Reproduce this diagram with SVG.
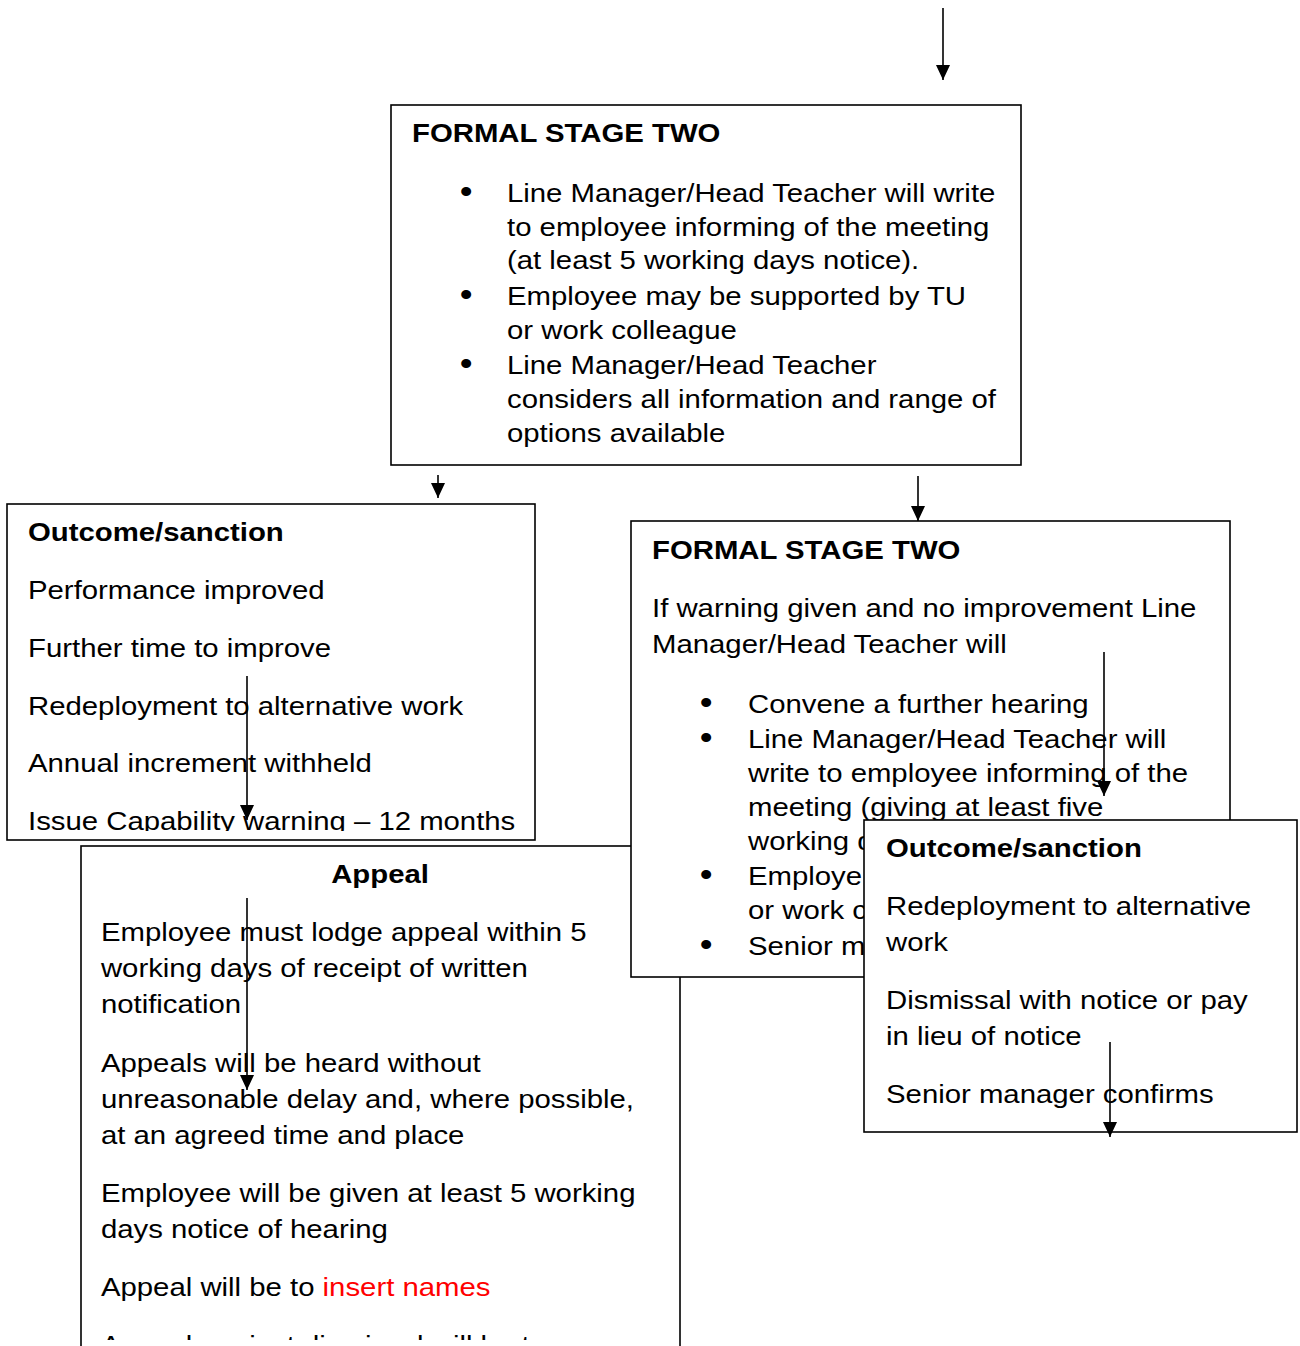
<svg xmlns="http://www.w3.org/2000/svg" width="1300" height="1346" viewBox="0 0 1300 1346">
<style>
.box{fill:#fff;stroke:#000;stroke-width:1.6}
.t{font-family:"Liberation Sans",Arial,sans-serif;font-size:26.5px;fill:#000}
.b{font-weight:bold}
.bl{font-size:33px;text-anchor:middle}
.red{fill:#ff0000}
.c{fill:none;stroke:#000;stroke-width:1.6}
</style>
<defs>
<marker id="ah" markerUnits="userSpaceOnUse" markerWidth="15" markerHeight="14" refX="15" refY="7" orient="auto">
<path d="M0,0 L15,7 L0,14 Z" fill="#000"/>
</marker>
<clipPath id="clipLeft"><rect x="7" y="504" width="528" height="327"/></clipPath>
<clipPath id="clipAppeal"><rect x="81" y="846" width="599" height="494"/></clipPath>
</defs>
<rect width="1300" height="1346" fill="#fff"/>

<g id="outcome-left">
<rect class="box" x="7" y="504" width="528" height="336"/>
<g clip-path="url(#clipLeft)">
<g class="t" transform="scale(1.107 1)">
<text class="b" x="25.3" y="541">Outcome/sanction</text>
<text x="25.3" y="599">Performance improved</text>
<text x="25.3" y="657">Further time to improve</text>
<text x="25.3" y="715">Redeployment to alternative work</text>
<text x="25.3" y="772">Annual increment withheld</text>
<text x="25.3" y="830">Issue Capability warning – 12 months</text>
</g>
</g>
</g>

<g id="appeal">
<rect class="box" x="81" y="846" width="599" height="520"/>
<g clip-path="url(#clipAppeal)">
<g class="t" transform="scale(1.107 1)">
<text class="b" x="343.3" y="883" text-anchor="middle">Appeal</text>
<text x="91.2" y="941">Employee must lodge appeal within 5</text>
<text x="91.2" y="977">working days of receipt of written</text>
<text x="91.2" y="1013">notification</text>
<text x="91.2" y="1072">Appeals will be heard without</text>
<text x="91.2" y="1108">unreasonable delay and, where possible,</text>
<text x="91.2" y="1144">at an agreed time and place</text>
<text x="91.2" y="1202">Employee will be given at least 5 working</text>
<text x="91.2" y="1238">days notice of hearing</text>
<text x="91.2" y="1296">Appeal will be to <tspan class="red">insert names</tspan></text>
<text x="91.2" y="1354">Appeal against dismissal will be to</text>
</g>
</g>
</g>

<g id="formal-stage-two-top">
<rect class="box" x="391" y="105" width="630" height="360"/>
<g class="t" transform="scale(1.107 1)">
<text class="b" x="372.2" y="142">FORMAL STAGE TWO</text>
<text class="bl" x="421" y="203">•</text>
<text x="458" y="202">Line Manager/Head Teacher will write</text>
<text x="458" y="236">to employee informing of the meeting</text>
<text x="458" y="269">(at least 5 working days notice).</text>
<text class="bl" x="421" y="306">•</text>
<text x="458" y="305">Employee may be supported by TU</text>
<text x="458" y="339">or work colleague</text>
<text class="bl" x="421" y="375">•</text>
<text x="458" y="374">Line Manager/Head Teacher</text>
<text x="458" y="408">considers all information and range of</text>
<text x="458" y="442">options available</text>
</g>
</g>

<g id="formal-stage-two-right">
<rect class="box" x="631" y="521" width="599" height="456"/>
<g class="t" transform="scale(1.107 1)">
<text class="b" x="589" y="559">FORMAL STAGE TWO</text>
<text x="589" y="617">If warning given and no improvement Line</text>
<text x="589" y="653">Manager/Head Teacher will</text>
<text class="bl" x="637.8" y="714">•</text>
<text x="675.7" y="713">Convene a further hearing</text>
<text class="bl" x="637.8" y="749">•</text>
<text x="675.7" y="748">Line Manager/Head Teacher will</text>
<text x="675.7" y="782">write to employee informing of the</text>
<text x="675.7" y="816">meeting (giving at least five</text>
<text x="675.7" y="850">working d</text>
<text class="bl" x="637.8" y="886">•</text>
<text x="675.7" y="885">Employe</text>
<text x="675.7" y="919">or work c</text>
<text class="bl" x="637.8" y="956">•</text>
<text x="675.7" y="955">Senior m</text>
</g>
</g>

<g id="outcome-right">
<rect class="box" x="864" y="820" width="433" height="312"/>
<g class="t" transform="scale(1.107 1)">
<text class="b" x="800.4" y="857">Outcome/sanction</text>
<text x="800.4" y="915">Redeployment to alternative</text>
<text x="800.4" y="951">work</text>
<text x="800.4" y="1009">Dismissal with notice or pay</text>
<text x="800.4" y="1045">in lieu of notice</text>
<text x="800.4" y="1103">Senior manager confirms</text>
</g>
</g>

<g id="connectors">
<line class="c" x1="943" y1="8" x2="943" y2="80" marker-end="url(#ah)"/>
<line class="c" x1="438" y1="475" x2="438" y2="498" marker-end="url(#ah)"/>
<line class="c" x1="918" y1="476" x2="918" y2="521" marker-end="url(#ah)"/>
<line class="c" x1="247" y1="676" x2="247" y2="820" marker-end="url(#ah)"/>
<line class="c" x1="247" y1="898" x2="247" y2="1090" marker-end="url(#ah)"/>
<line class="c" x1="1104" y1="652" x2="1104" y2="796" marker-end="url(#ah)"/>
<line class="c" x1="1110" y1="1042" x2="1110" y2="1137" marker-end="url(#ah)"/>
</g>
</svg>
